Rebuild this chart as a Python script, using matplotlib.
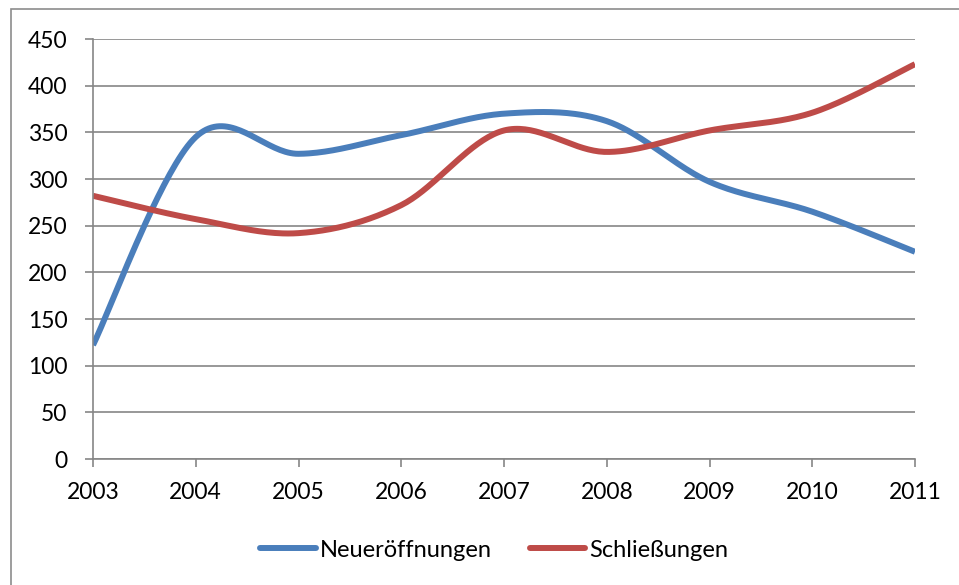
import numpy as np
import matplotlib
matplotlib.use("Agg")
import matplotlib.pyplot as plt
from matplotlib.patches import Rectangle

plt.rcParams['font.family'] = ['Lato', 'DejaVu Sans']

years = [2003, 2004, 2005, 2006, 2007, 2008, 2009, 2010, 2011]
neueroeffnungen = [122, 345, 327, 347, 370, 362, 297, 265, 222]
schliessungen = [282, 257, 242, 272, 352, 329, 352, 371, 423]
y_ticks = [0, 50, 100, 150, 200, 250, 300, 350, 400, 450]

BLUE = '#4A7EBB'
RED = '#BE4B48'
GREY = '#868686'


# excel style smoothing (bezier with neighbour based control points)
def smooth(xs, ys, n=40):
    p = np.column_stack([xs, ys]).astype(float)
    p = np.vstack([p[0], p, p[-1]])
    out = []
    t = np.linspace(0, 1, n)[:, None]
    for i in range(1, len(p) - 2):
        p0 = p[i]
        p3 = p[i + 1]
        c1 = p0 + (p[i + 1] - p[i - 1]) / 6
        c2 = p3 - (p[i + 2] - p[i]) / 6
        seg = ((1 - t) ** 3) * p0 + 3 * ((1 - t) ** 2) * t * c1 + 3 * (1 - t) * t ** 2 * c2 + t ** 3 * p3
        out.append(seg if i == 1 else seg[1:])
    out = np.vstack(out)
    return out[:, 0], out[:, 1]


fig = plt.figure(figsize=(9.59, 5.85), dpi=100)
ax = fig.add_axes([93 / 959, 1 - 459 / 585, (915 - 93) / 959, (459 - 39) / 585])

fig.patches.append(Rectangle((11 / 959, -0.05), 1.0, 1 - 9 / 585 + 0.05, transform=fig.transFigure,
                             fill=False, edgecolor='#8c8c8c', linewidth=1.2))

sx, sy = smooth(years, neueroeffnungen)
ax.plot(sx, sy, color=BLUE, linewidth=4.3, solid_capstyle='butt', label='Neueröffnungen')
sx, sy = smooth(years, schliessungen)
ax.plot(sx, sy, color=RED, linewidth=4.3, solid_capstyle='butt', label='Schließungen')

ax.set_xlim(years[0], years[-1])
ax.set_ylim(0, 450)
ax.set_xticks(years)
ax.set_yticks(y_ticks)
ax.yaxis.grid(True, color=GREY, linewidth=1.2)
ax.set_axisbelow(True)
for s in ['top', 'right']:
    ax.spines[s].set_visible(False)
for s in ['left', 'bottom']:
    ax.spines[s].set_color(GREY)
    ax.spines[s].set_linewidth(1.2)
ax.tick_params(axis='both', colors=GREY, length=5.5, width=1.2, labelsize=16.5, labelcolor='black')
ax.tick_params(axis='y', pad=13)
ax.tick_params(axis='x', pad=11)

leg = ax.legend(loc='center', bbox_to_anchor=(0.488, -0.217), ncol=2, frameon=False, fontsize=17,
                handlelength=2.37, handletextpad=0.17, columnspacing=1.6)
for h in leg.get_lines():
    h.set_solid_capstyle('round')

fig.savefig('out.png', dpi=100)
